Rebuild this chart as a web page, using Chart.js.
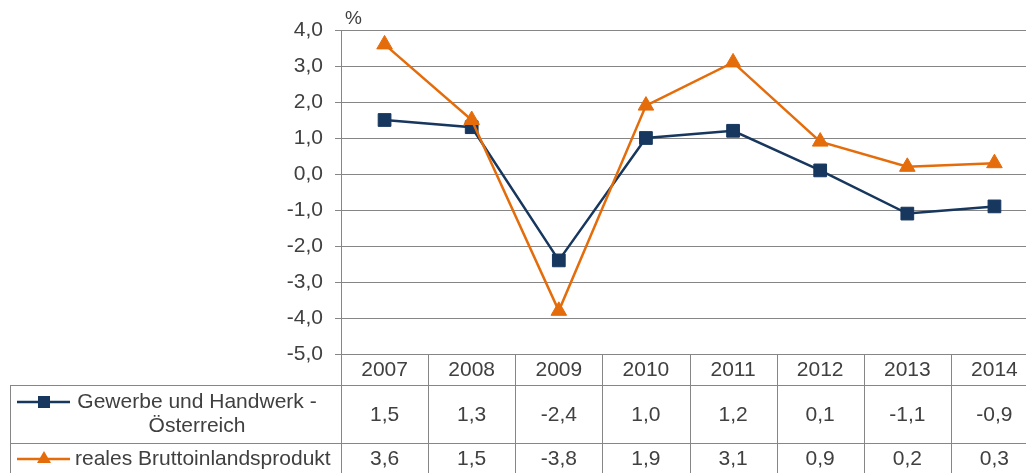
<!DOCTYPE html>
<html>
<head>
<meta charset="utf-8">
<script src="https://cdn.jsdelivr.net/npm/chart.js@4/dist/chart.umd.min.js"></script>
<style>
    html, body { margin: 0; background: #fff; overflow: hidden; }
    #wrap { width: 1040px; height: 473px; position: relative; }
</style>
</head>
<body>
<div id="wrap"><canvas id="chart"></canvas></div>
<script>
const jahre = ['2007', '2008', '2009', '2010', '2011', '2012', '2013', '2014'];
const gewerbe = [1.5, 1.3, -2.4, 1.0, 1.2, 0.1, -1.1, -0.9];
const bip = [3.6, 1.5, -3.8, 1.9, 3.1, 0.9, 0.2, 0.3];
const gewerbeName = ['Gewerbe und Handwerk -', 'Österreich'];
const bipName = 'reales Bruttoinlandsprodukt';

const blau = '#17375E';
const orange = '#E46C0A';
const grau = '#868686';
const textFarbe = '#404040';
const familie = '"Liberation Sans", Arial, sans-serif';
const schrift = '21px ' + familie;

function komma(v) {
    return v.toFixed(1).replace('.', ',');
}

// Datentabelle unter dem Diagramm (rechts vom Fensterrand abgeschnitten wie im Original)
const tabelle = {
    id: 'tabelle',
    afterDraw(chart) {
        const ctx = chart.ctx;
        const area = chart.chartArea;
        const xs = chart.scales.x;
        const n = jahre.length;
        const w = (area.right - area.left) / n;
        const top = Math.round(area.bottom);
        const r1 = top + 31;
        const r2 = r1 + 58;
        const unten = chart.height;
        const links = 10;

        ctx.save();
        ctx.strokeStyle = grau;
        ctx.lineWidth = 1;
        ctx.beginPath();
        // horizontale Linien
        ctx.moveTo(links, r1 + 0.5); ctx.lineTo(area.right, r1 + 0.5);
        ctx.moveTo(links, r2 + 0.5); ctx.lineTo(area.right, r2 + 0.5);
        // linker Rand
        ctx.moveTo(links + 0.5, r1); ctx.lineTo(links + 0.5, unten);
        // Spalten
        for (let i = 0; i <= n; i++) {
            const x = Math.round(area.left + i * w) + 0.5;
            ctx.moveTo(x, top); ctx.lineTo(x, unten);
        }
        ctx.stroke();

        ctx.fillStyle = textFarbe;
        ctx.font = schrift;
        ctx.textAlign = 'center';
        ctx.textBaseline = 'middle';
        jahre.forEach((j, i) => {
            const x = xs.getPixelForValue(i);
            ctx.fillText(j, x, top + 16);
            ctx.fillText(komma(gewerbe[i]), x, r1 + 30);
            ctx.fillText(komma(bip[i]), x, r2 + 16);
        });

        // Legendentext
        ctx.fillText(gewerbeName[0], 197, r1 + 17);
        ctx.fillText(gewerbeName[1], 197, r1 + 41);
        ctx.textAlign = 'left';
        ctx.fillText(bipName, 75, r2 + 16);

        // Legendensymbole
        ctx.lineWidth = 2.5;
        ctx.strokeStyle = blau;
        ctx.beginPath();
        ctx.moveTo(17, r1 + 17); ctx.lineTo(70, r1 + 17);
        ctx.stroke();
        ctx.fillStyle = blau;
        ctx.fillRect(38, r1 + 11, 12, 12);

        ctx.strokeStyle = orange;
        ctx.beginPath();
        ctx.moveTo(17, r2 + 16); ctx.lineTo(70, r2 + 16);
        ctx.stroke();
        ctx.fillStyle = orange;
        ctx.beginPath();
        ctx.moveTo(44, r2 + 8); ctx.lineTo(51, r2 + 20); ctx.lineTo(37, r2 + 20);
        ctx.closePath();
        ctx.fill();

        // Einheit
        ctx.fillStyle = textFarbe;
        ctx.font = '19px ' + familie;
        ctx.textAlign = 'left';
        ctx.textBaseline = 'alphabetic';
        ctx.fillText('%', area.left + 4, 24);
        ctx.restore();
    }
};

new Chart(document.getElementById('chart'), {
    type: 'line',
    data: {
        labels: jahre,
        datasets: [
            {
                label: gewerbeName.join(' '),
                data: gewerbe,
                borderColor: blau,
                backgroundColor: blau,
                borderWidth: 2.5,
                pointStyle: 'rect',
                pointRadius: 9,
                pointHoverRadius: 9,
                pointBorderWidth: 1,
                tension: 0,
                order: 1
            },
            {
                label: bipName,
                data: bip,
                borderColor: orange,
                backgroundColor: orange,
                borderWidth: 2.5,
                pointStyle: 'triangle',
                pointRadius: 9,
                pointHoverRadius: 9,
                pointBorderWidth: 1,
                tension: 0,
                order: 0
            }
        ]
    },
    options: {
        responsive: true,
        maintainAspectRatio: false,
        animation: false,
        layout: { autoPadding: false, padding: { top: 30, right: 2, bottom: 119, left: 0 } },
        plugins: {
            legend: { display: false },
            tooltip: { enabled: false }
        },
        scales: {
            x: {
                display: false,
                offset: true
            },
            y: {
                min: -5,
                max: 4,
                afterFit(scale) { scale.width = 341; },
                ticks: {
                    stepSize: 1,
                    color: textFarbe,
                    font: { family: familie, size: 21 },
                    padding: 12,
                    callback: v => komma(v)
                },
                grid: {
                    color: grau,
                    lineWidth: 1,
                    tickLength: 6,
                    drawTicks: true
                },
                border: { color: grau, width: 1 }
            }
        }
    },
    plugins: [tabelle]
});
</script>
</body>
</html>
